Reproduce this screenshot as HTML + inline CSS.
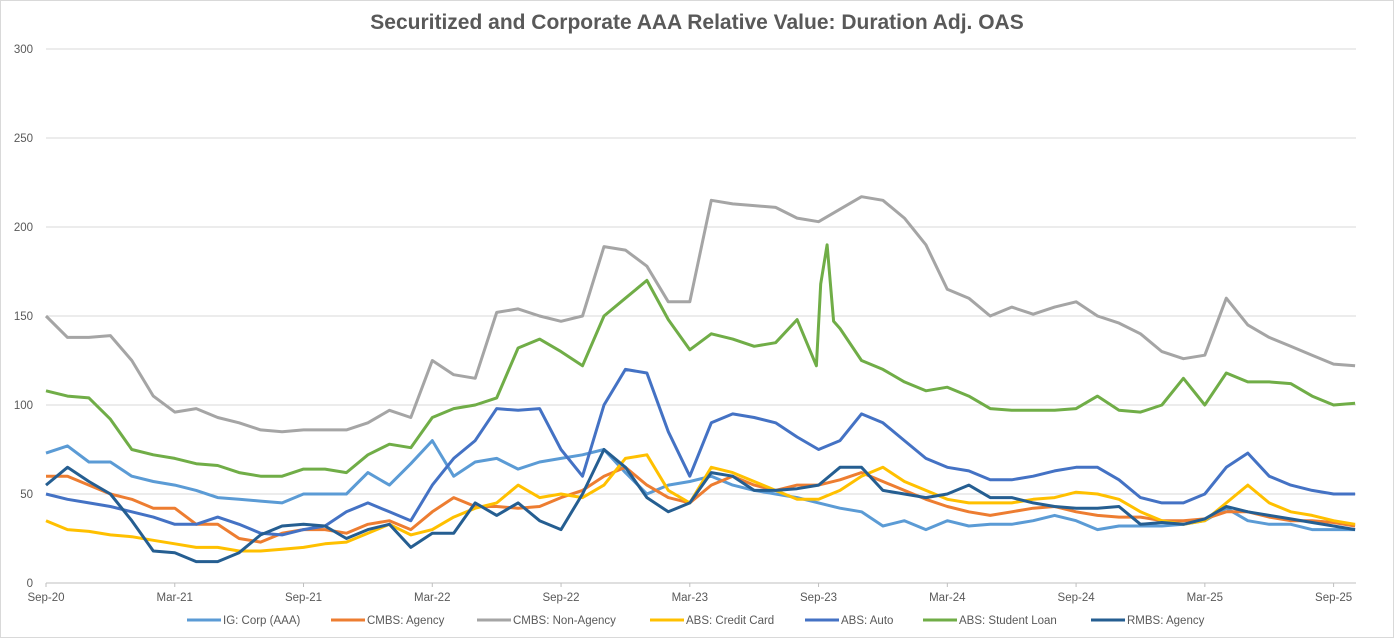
<!DOCTYPE html>
<html><head><meta charset="utf-8"><style>
body{margin:0;background:#fff;}
svg text{font-family:"Liberation Sans",sans-serif;}
</style></head><body>
<svg id="chart" width="1394" height="638" viewBox="0 0 1394 638" xmlns="http://www.w3.org/2000/svg">
<rect x="0.5" y="0.5" width="1393" height="637" fill="#fff" stroke="#d9d9d9"/>
<text x="697" y="29" text-anchor="middle" font-size="21" font-weight="bold" fill="#595959">Securitized and Corporate AAA Relative Value: Duration Adj. OAS</text>
<g id="grid"></g><g id="series"></g><g id="axes"></g><g id="legend"></g>
</svg>
<script>
const months = [];
for (let i = 0; i <= 61; i++) months.push(i);
const xTickLabels = ["Sep-20","Mar-21","Sep-21","Mar-22","Sep-22","Mar-23","Sep-23","Mar-24","Sep-24","Mar-25","Sep-25"];
const yTicks = [0,50,100,150,200,250,300];
const seriesNames = ["IG: Corp (AAA)","CMBS: Agency","CMBS: Non-Agency","ABS: Credit Card","ABS: Auto","ABS: Student Loan","RMBS: Agency"];
const seriesColors = ["#5B9BD5","#ED7D31","#A5A5A5","#FFC000","#4472C4","#70AD47","#255E91"];
const igCorp = [73,77,68,68,60,57,55,52,48,47,46,45,50,50,50,62,55,67,80,60,68,70,64,68,70,72,75,62,50,55,57,60,55,52,50,48,45,42,40,32,35,30,35,32,33,33,35,38,35,30,32,32,32,33,35,42,35,33,33,30,30,30];
const cmbsAgency = [60,60,55,50,47,42,42,33,33,25,23,28,30,30,28,33,35,30,40,48,43,43,42,43,48,52,60,65,55,48,45,55,60,55,52,55,55,58,62,57,52,47,43,40,38,40,42,43,40,38,37,37,35,35,36,40,40,37,35,35,34,32];
const cmbsNonAgency = [150,138,138,139,125,105,96,98,93,90,86,85,86,86,86,90,97,93,125,117,115,152,154,150,147,150,189,187,178,158,158,215,213,212,211,205,203,210,217,215,205,190,165,160,150,155,151,155,158,150,146,140,130,126,128,160,145,138,133,128,123,122];
const absCreditCard = [35,30,29,27,26,24,22,20,20,18,18,19,20,22,23,28,33,27,30,37,42,45,55,48,50,48,55,70,72,52,45,65,62,57,52,47,47,52,60,65,57,52,47,45,45,45,47,48,51,50,47,40,35,33,35,45,55,45,40,38,35,33];
const absAuto = [50,47,45,43,40,37,33,33,37,33,28,27,30,32,40,45,40,35,55,70,80,98,97,98,75,60,100,120,118,85,60,90,95,93,90,82,75,80,95,90,80,70,65,63,58,58,60,63,65,65,58,48,45,45,50,65,73,60,55,52,50,50];
const studentLoanMonths = [0,1,2,3,4,5,6,7,8,9,10,11,12,13,14,15,16,17,18,19,20,21,22,23,24,25,26,27,28,29,30,31,32,33,34,35,35.9,36.1,36.4,36.7,37,38,39,40,41,42,43,44,45,46,47,48,49,50,51,52,53,54,55,56,57,58,59,60,61];
const studentLoan = [108,105,104,92,75,72,70,67,66,62,60,60,64,64,62,72,78,76,93,98,100,104,132,137,130,122,150,160,170,148,131,140,137,133,135,148,122,168,190,147,143,125,120,113,108,110,105,98,97,97,97,98,105,97,96,100,115,100,118,113,113,112,105,100,101];
const rmbsAgency = [55,65,57,50,35,18,17,12,12,17,27,32,33,32,25,30,33,20,28,28,45,38,45,35,30,50,75,65,48,40,45,62,60,52,52,53,55,65,65,52,50,48,50,55,48,48,45,43,42,42,43,33,34,33,36,43,40,38,36,34,32,30];

const NS = "http://www.w3.org/2000/svg";
const X0 = 46, PX_PER_MONTH = 21.46, Y0 = 583, PX_PER_UNIT = 1.78;
const xScale = m => X0 + m * PX_PER_MONTH;
const yScale = v => Y0 - v * PX_PER_UNIT;
const mk = (tag, attrs, parent) => { const e = document.createElementNS(NS, tag); for (const k in attrs) e.setAttribute(k, attrs[k]); parent.appendChild(e); return e; };
const grid = document.getElementById('grid'), axes = document.getElementById('axes'), seriesG = document.getElementById('series'), legend = document.getElementById('legend');
const plotRight = 1356;

yTicks.forEach(t => {
  if (t > 0) {
    const gl = mk('line', {x1: X0, x2: plotRight, y1: yScale(t), y2: yScale(t), stroke: '#d9d9d9', 'stroke-width': 1}, grid);
    
    
  }
  const tl = mk('text', {x: 33, y: yScale(t) + 4, 'text-anchor': 'end', 'font-size': 11.5, fill: '#595959'}, axes);
  tl.textContent = t;
  
  
});
const ax = mk('line', {x1: X0, x2: plotRight, y1: Y0, y2: Y0, stroke: '#bfbfbf', 'stroke-width': 1}, axes);


xTickLabels.forEach((lab, i) => {
  const x = xScale(i * 6);
  const tk = mk('line', {x1: x, x2: x, y1: Y0, y2: Y0 + 4, stroke: '#bfbfbf'}, axes);
  
  
  const t = mk('text', {x: x, y: 601, 'text-anchor': 'middle', 'font-size': 11.5, fill: '#595959'}, axes);
  t.textContent = lab;
  
  
});

const allData = [[months, igCorp],[months, cmbsAgency],[months, cmbsNonAgency],[months, absCreditCard],[months, absAuto],[studentLoanMonths, studentLoan],[months, rmbsAgency]];
allData.forEach((d, i) => {
  const pts = d[1].map((v, j) => xScale(d[0][j]).toFixed(1) + ',' + yScale(v).toFixed(1)).join(' ');
  const pl = mk('polyline', {points: pts, fill: 'none', stroke: seriesColors[i], 'stroke-width': 3, 'stroke-linejoin': 'round'}, seriesG);
  
  
});

const legendX = [187, 331, 477, 650, 805, 923, 1091];
seriesNames.forEach((n, i) => {
  const g = mk('g', {}, legend);
  
  
  mk('line', {x1: legendX[i], x2: legendX[i] + 34, y1: 620, y2: 620, stroke: seriesColors[i], 'stroke-width': 3}, g);
  const t = mk('text', {x: legendX[i] + 36, y: 624, 'font-size': 11.5, fill: '#595959'}, g);
  t.textContent = n;
});
</script>
</body></html>
